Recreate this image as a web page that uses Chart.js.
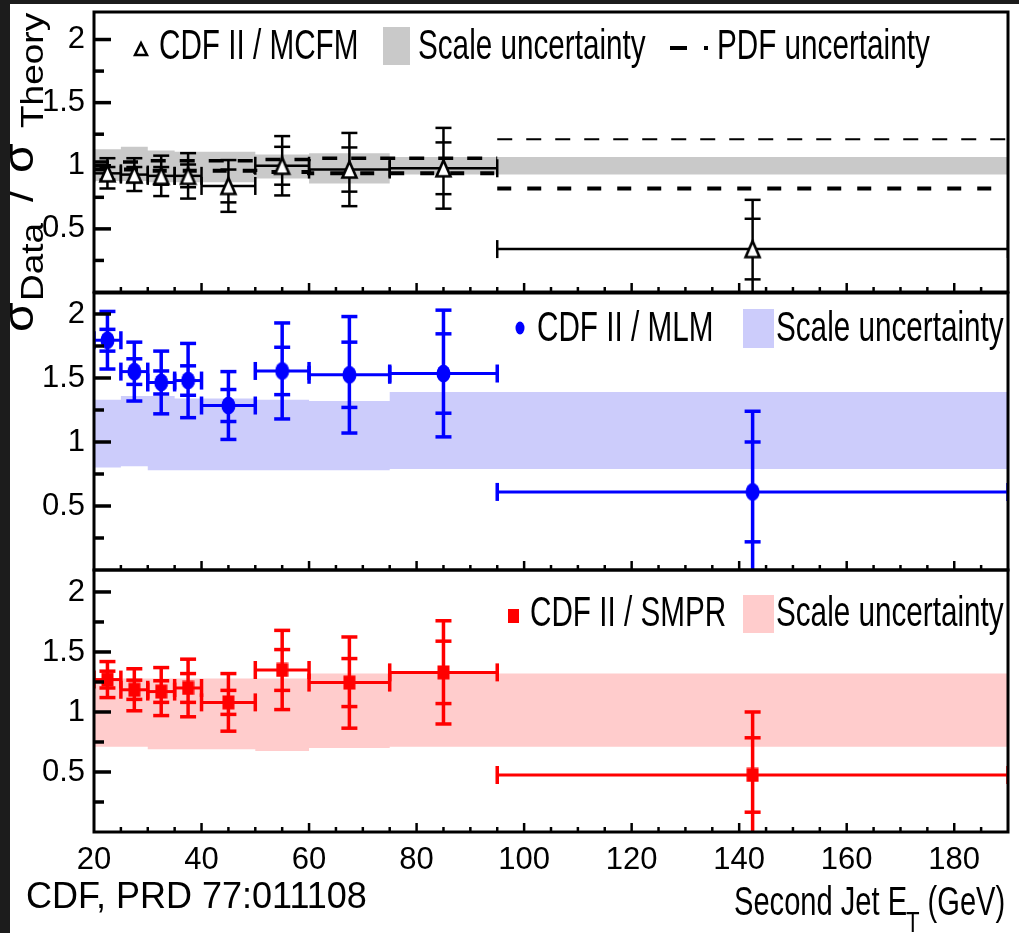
<!DOCTYPE html>
<html>
<head>
<meta charset="utf-8">
<script src="https://cdn.jsdelivr.net/npm/chart.js@4.4.1/dist/chart.umd.min.js"></script>
<style>
html,body{margin:0;padding:0;background:#fff;width:1019px;height:933px;overflow:hidden;}
#wrap{position:relative;width:1019px;height:933px;background:#fff;}
canvas{position:absolute;left:0;top:0;}
.dark{position:absolute;background:#1c1c1c;z-index:10;}
</style>
</head>
<body>
<div id="wrap">
  <canvas id="cTop" width="1019" height="933"></canvas>
  <canvas id="cMid" width="1019" height="933"></canvas>
  <canvas id="cBot" width="1019" height="933"></canvas>
  <div class="dark" style="left:0;top:0;width:10px;height:933px"></div>
  <div class="dark" style="left:0;top:0;width:1019px;height:4px"></div>
</div>
<script>
// ---------------- data ----------------
const binEdges   = [20, 25, 30, 35, 40, 50, 60, 75, 95, 190];
const binCenters = [22.5, 27.5, 32.5, 37.5, 45, 55, 67.5, 85, 142.5];
const xTickValues = [20, 40, 60, 80, 100, 120, 140, 160, 180];
const xTickLabels = ['20', '40', '60', '80', '100', '120', '140', '160', '180'];
const yTickValues = [0.5, 1, 1.5, 2];
const yTickLabels = ['0.5', '1', '1.5', '2'];

// CDF II / MCFM
const mcfmRatio = [0.94, 0.93, 0.92, 0.92, 0.84, 1.00, 0.97, 0.98, 0.34];
const mcfmStat  = [0.05, 0.06, 0.07, 0.09, 0.13, 0.15, 0.175, 0.205, 0.24];
const mcfmTotal = [0.12, 0.13, 0.16, 0.18, 0.205, 0.235, 0.29, 0.32, 0.39];
const mcfmScaleUp   = [1.13, 1.13, 1.15, 1.12, 1.11, 1.11, 1.09, 1.10, 1.07];
const mcfmScaleDown = [0.88, 0.88, 0.88, 0.87, 0.87, 0.87, 0.90, 0.86, 0.93];
const pdfUp   = [1.03, 1.03, 1.03, 1.04, 1.04, 1.04, 1.05, 1.06, 1.21];
const pdfDown = [0.97, 0.97, 0.97, 0.96, 0.96, 0.96, 0.95, 0.94, 0.82];

// CDF II / MLM
const mlmRatio = [1.795, 1.55, 1.465, 1.48, 1.285, 1.555, 1.525, 1.535, 0.61];
const mlmStat  = [0.085, 0.10, 0.09, 0.115, 0.125, 0.185, 0.255, 0.31, 0.39];
const mlmTotal = [0.225, 0.23, 0.245, 0.29, 0.265, 0.375, 0.455, 0.495, 0.63];
const mlmScaleUp   = [1.29, 1.33, 1.36, 1.36, 1.34, 1.34, 1.33, 1.32, 1.39];
const mlmScaleDown = [0.81, 0.80, 0.81, 0.78, 0.78, 0.78, 0.78, 0.78, 0.79];

// CDF II / SMPR
const smprRatio = [1.27, 1.185, 1.17, 1.20, 1.08, 1.35, 1.245, 1.33, 0.475];
const smprStat  = [0.07, 0.08, 0.09, 0.12, 0.10, 0.17, 0.20, 0.26, 0.31];
const smprTotal = [0.15, 0.175, 0.20, 0.24, 0.24, 0.33, 0.38, 0.43, 0.525];
const smprScaleUp   = [1.30, 1.28, 1.28, 1.28, 1.28, 1.28, 1.28, 1.32, 1.32];
const smprScaleDown = [0.705, 0.71, 0.71, 0.69, 0.69, 0.69, 0.675, 0.70, 0.71];

// ---------------- helpers ----------------
const FONT = "'Liberation Sans', Arial, Helvetica, sans-serif";
const FONT_NARROW = "'Liberation Sans Narrow', 'Arial Narrow', 'Nimbus Sans Narrow', 'Liberation Sans', Arial, sans-serif";

function stepData(vals) {
  return binEdges.map((e, i) => ({ x: e, y: vals[Math.min(i, vals.length - 1)] }));
}
function splitStepData(vals) {
  const pts = [];
  for (let i = 0; i <= 8; i++) pts.push({ x: binEdges[i], y: vals[Math.min(i, 7)] });
  pts.push({ x: 95, y: null });
  pts.push({ x: 95, y: vals[8] });
  pts.push({ x: 190, y: vals[8] });
  return pts;
}
function pointData(vals) { return binCenters.map((x, i) => ({ x: x, y: vals[i] })); }

function triImg() {
  const c = document.createElement('canvas'); c.width = 19; c.height = 21;
  const g = c.getContext('2d');
  g.beginPath(); g.moveTo(9.5, 2.5); g.lineTo(16.5, 18.5); g.lineTo(2.5, 18.5); g.closePath();
  g.fillStyle = '#fff'; g.fill(); g.lineWidth = 2.6; g.strokeStyle = '#000'; g.stroke();
  return c;
}
function ellImg(color) {
  const c = document.createElement('canvas'); c.width = 15; c.height = 19;
  const g = c.getContext('2d');
  g.beginPath(); g.ellipse(7.5, 9.5, 7, 9, 0, 0, Math.PI * 2); g.fillStyle = color; g.fill();
  return c;
}
function rectImg(color) {
  const c = document.createElement('canvas'); c.width = 13; c.height = 15;
  const g = c.getContext('2d'); g.fillStyle = color; g.fillRect(0.5, 0.5, 12, 14);
  return c;
}

function line(ctx, x1, y1, x2, y2) { ctx.beginPath(); ctx.moveTo(x1, y1); ctx.lineTo(x2, y2); ctx.stroke(); }

function txt(ctx, s, x, y, size, sx, color, family) {
  ctx.save();
  ctx.font = size + 'px ' + (family || FONT);
  ctx.textBaseline = 'alphabetic'; ctx.textAlign = 'left';
  ctx.fillStyle = color || '#000';
  ctx.translate(x, y); ctx.scale(sx, 1);
  ctx.fillText(s, 0, 0);
  ctx.restore();
}

// error bars drawn just before the marker dataset
const errorBarPlugin = {
  id: 'errbars',
  beforeDatasetDraw(chart, args) {
    const ds = chart.data.datasets[args.index];
    if (!ds.errTot) return;
    const ctx = chart.ctx, a = chart.chartArea, xs = chart.scales.x, ys = chart.scales.y;
    ctx.save();
    ctx.beginPath(); ctx.rect(a.left, a.top, a.right - a.left, a.bottom - a.top); ctx.clip();
    ctx.strokeStyle = ds.errColor; ctx.lineCap = 'butt';
    ds.data.forEach((p, i) => {
      const px = xs.getPixelForValue(p.x), py = ys.getPixelForValue(p.y);
      const xl = xs.getPixelForValue(binEdges[i]), xr = xs.getPixelForValue(binEdges[i + 1]);
      const yt = ys.getPixelForValue(p.y + ds.errTot[i]), yb = ys.getPixelForValue(p.y - ds.errTot[i]);
      const yst = ys.getPixelForValue(p.y + ds.errStat[i]), ysb = ys.getPixelForValue(p.y - ds.errStat[i]);
      ctx.lineWidth = ds.errHWidth;
      line(ctx, xl, py, xr, py);
      ctx.lineWidth = ds.errWidth;
      line(ctx, xl, py - 9, xl, py + 9);
      line(ctx, xr, py - 9, xr, py + 9);
      line(ctx, px, yt, px, yb);
      [yt, yb, yst, ysb].forEach(yy => line(ctx, px - 8, yy, px + 8, yy));
    });
    ctx.restore();
  }
};

// frame and inward tick marks from the library's scale ticks
const framePlugin = {
  id: 'frame',
  afterDatasetsDraw(chart) {
    const ctx = chart.ctx, a = chart.chartArea, xs = chart.scales.x, ys = chart.scales.y;
    ctx.save(); ctx.strokeStyle = '#000'; ctx.lineCap = 'butt';
    ctx.lineWidth = 3.5;
    ys.ticks.forEach(t => {
      const v = t.value;
      if (v <= 0 || Math.abs(v * 4 - Math.round(v * 4)) > 1e-6) return;
      const major = Math.abs(v * 2 - Math.round(v * 2)) < 1e-6;
      const py = ys.getPixelForValue(v);
      line(ctx, a.left, py, a.left + (major ? 17 : 10), py);
    });
    ctx.lineWidth = 2.5;
    xs.ticks.forEach(t => {
      const v = t.value;
      if (v <= 20 || v >= 190 || Math.abs(v / 5 - Math.round(v / 5)) > 1e-6) return;
      const major = Math.abs(v / 20 - Math.round(v / 20)) < 1e-6;
      const px = xs.getPixelForValue(v);
      line(ctx, px, a.bottom, px, a.bottom - (major ? 9 : 5));
    });
    ctx.lineWidth = 3;
    ctx.strokeRect(a.left, a.top, a.right - a.left, a.bottom - a.top);
    ctx.restore();
  }
};

function bandDatasets(up, down, color) {
  return [
    { type: 'line', order: 3, data: stepData(up), stepped: 'after', borderWidth: 1, borderColor: 'rgba(0,0,0,0)',
      pointRadius: 0, fill: '+1', backgroundColor: color },
    { type: 'line', order: 3, data: stepData(down), stepped: 'after', borderWidth: 1, borderColor: 'rgba(0,0,0,0)',
      pointRadius: 0, fill: false }
  ];
}

function makeChart(id, cfg) {
  const isBottom = !!cfg.isBottom;
  return new Chart(document.getElementById(id), {
    data: { datasets: cfg.datasets },
    options: {
      responsive: false, animation: false, devicePixelRatio: 1,
      layout: { padding: { left: 0, right: 11, top: cfg.top, bottom: cfg.bottomPad } },
      plugins: { legend: { display: false }, tooltip: { enabled: false } },
      scales: {
        x: {
          type: 'linear', min: 20, max: 190, display: isBottom,
          afterFit: s => { if (isBottom) s.height = 101; s.paddingLeft = 0; s.paddingRight = 0; },
          grid: { display: false, drawTicks: false }, border: { display: false },
          ticks: {
            stepSize: 5, autoSkip: false, maxRotation: 0, minRotation: 0, padding: 10,
            color: '#000', font: { family: FONT_NARROW, size: 31 },
            callback: v => { const k = xTickValues.indexOf(v); return k >= 0 ? xTickLabels[k] : ''; }
          }
        },
        y: {
          type: 'linear', min: 0, max: cfg.ymax,
          afterFit: s => { s.width = 94; s.paddingTop = 0; s.paddingBottom = 0; },
          grid: { display: false, drawTicks: false }, border: { display: false },
          ticks: {
            stepSize: 0.25, autoSkip: false, padding: 9, includeBounds: false,
            color: '#000', font: { family: FONT_NARROW, size: 31 },
            callback: v => { const k = yTickValues.findIndex(t => Math.abs(t - v) < 1e-6); return k >= 0 ? yTickLabels[k] : ''; }
          }
        }
      }
    },
    plugins: [errorBarPlugin, framePlugin, { id: 'txt_' + id, afterDraw: cfg.afterDraw }]
  });
}

// ---------------- top panel: MCFM ----------------
makeChart('cTop', {
  top: 12, bottomPad: 933 - 292, ymax: 2.218,
  datasets: [
    ...bandDatasets(mcfmScaleUp, mcfmScaleDown, '#c9c9c9'),
    { type: 'line', order: 2, data: splitStepData(pdfUp), stepped: 'after', pointRadius: 0, fill: false,
      borderColor: '#000', borderWidth: 3, borderDash: [15, 14],
      segment: { borderWidth: c => (c.p0.parsed.x >= 95 ? 2 : 3.5) } },
    { type: 'line', order: 2, data: splitStepData(pdfDown), stepped: 'after', pointRadius: 0, fill: false,
      borderColor: '#000', borderWidth: 4, borderDash: [14, 16] },
    { type: 'scatter', order: 1, data: pointData(mcfmRatio), pointStyle: triImg(), pointRadius: 8,
      errStat: mcfmStat, errTot: mcfmTotal, errColor: '#000', errWidth: 2.5, errHWidth: 2.5 }
  ],
  afterDraw(chart) {
    const ctx = chart.ctx;
    // y axis title (rotated)
    ctx.save();
    ctx.translate(33, 332); ctx.rotate(-Math.PI / 2); ctx.scale(1, 0.87);
    ctx.fillStyle = '#000'; ctx.textBaseline = 'alphabetic';
    ctx.font = '48px ' + FONT; ctx.fillText('σ', 0, 0);
    ctx.font = '37px ' + FONT; ctx.fillText('Data', 31, 11.5);
    ctx.font = '44px ' + FONT; ctx.fillText('/', 130, 0);
    ctx.font = '48px ' + FONT; ctx.fillText('σ', 159, 0);
    ctx.font = '37px ' + FONT; ctx.fillText('Theory', 204, 11.5);
    ctx.restore();
    // legend
    ctx.save();
    ctx.beginPath(); ctx.moveTo(141, 43); ctx.lineTo(147, 55); ctx.lineTo(135, 55); ctx.closePath();
    ctx.fillStyle = '#fff'; ctx.fill(); ctx.lineWidth = 2.5; ctx.strokeStyle = '#000'; ctx.stroke();
    ctx.fillStyle = '#c9c9c9'; ctx.fillRect(383, 27, 27, 38);
    ctx.setLineDash([17, 17]); ctx.lineWidth = 4;
    line(ctx, 670, 48, 708, 48);
    ctx.restore();
    txt(ctx, 'CDF II / MCFM', 159, 59, 43, 0.69);
    txt(ctx, 'Scale uncertainty', 418, 59, 43, 0.69);
    txt(ctx, 'PDF uncertainty', 717, 59, 43, 0.69);
  }
});

// ---------------- middle panel: MLM ----------------
makeChart('cMid', {
  top: 293, bottomPad: 933 - 570, ymax: 2.164,
  datasets: [
    ...bandDatasets(mlmScaleUp, mlmScaleDown, '#ccccfb'),
    { type: 'scatter', order: 1, data: pointData(mlmRatio), pointStyle: ellImg('#0000ff'), pointRadius: 8,
      errStat: mlmStat, errTot: mlmTotal, errColor: '#0000ff', errWidth: 3.5, errHWidth: 3 }
  ],
  afterDraw(chart) {
    const ctx = chart.ctx;
    ctx.save();
    ctx.fillStyle = '#0000ff';
    ctx.beginPath(); ctx.ellipse(520, 328, 4.5, 6.5, 0, 0, Math.PI * 2); ctx.fill();
    ctx.fillStyle = '#ccccfb'; ctx.fillRect(743, 309, 31, 39);
    ctx.restore();
    txt(ctx, 'CDF II / MLM', 537, 341, 43, 0.69);
    txt(ctx, 'Scale uncertainty', 776, 341, 43, 0.69);
  }
});

// ---------------- bottom panel: SMPR ----------------
makeChart('cBot', {
  isBottom: true, top: 570, bottomPad: 0, ymax: 2.183,
  datasets: [
    ...bandDatasets(smprScaleUp, smprScaleDown, '#ffcccc'),
    { type: 'scatter', order: 1, data: pointData(smprRatio), pointStyle: rectImg('#ff0000'), pointRadius: 8,
      errStat: smprStat, errTot: smprTotal, errColor: '#ff0000', errWidth: 3.5, errHWidth: 3 }
  ],
  afterDraw(chart) {
    const ctx = chart.ctx;
    ctx.save();
    ctx.fillStyle = '#ff0000'; ctx.fillRect(508, 609, 11, 14);
    ctx.fillStyle = '#ffcccc'; ctx.fillRect(743, 595, 31, 38);
    ctx.restore();
    txt(ctx, 'CDF II / SMPR', 530, 626, 43, 0.69);
    txt(ctx, 'Scale uncertainty', 776, 626, 43, 0.69);
    // x axis title
    txt(ctx, 'Second Jet E', 734, 915, 41, 0.71);
    txt(ctx, 'T', 906, 932, 30, 0.74);
    txt(ctx, ' (GeV)', 919.5, 915, 41, 0.71);
    // reference note
    txt(ctx, 'CDF, PRD 77:011108', 26, 908, 36, 1);
  }
});
</script>
</body>
</html>
